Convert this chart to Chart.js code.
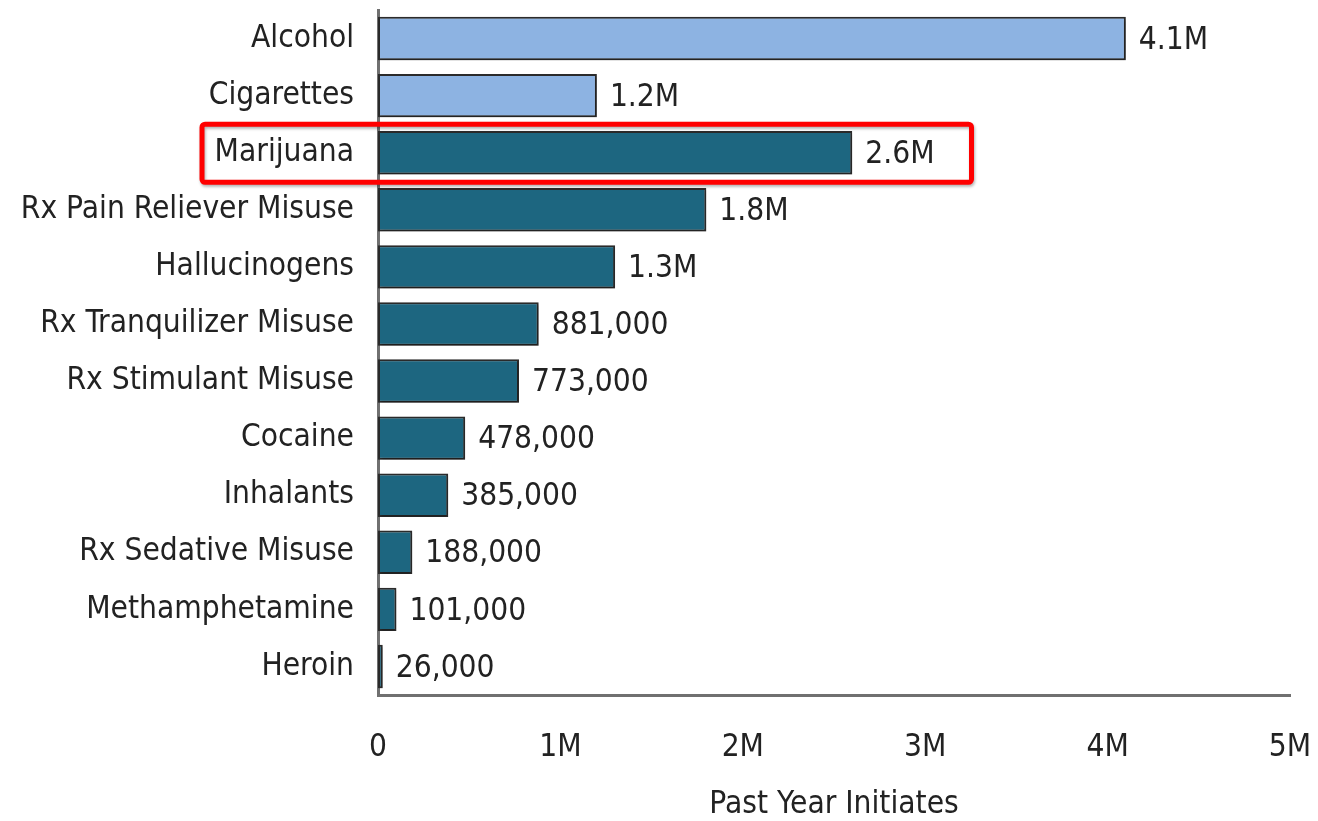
<!DOCTYPE html>
<html>
<head>
<meta charset="utf-8">
<script src="https://cdn.jsdelivr.net/npm/chart.js@4/dist/chart.umd.min.js"></script>
<style>
  html, body { margin: 0; padding: 0; background: #ffffff; }
  #c { width: 1318px; height: 821px; display: block; }
</style>
</head>
<body>
<canvas id="c" width="1318" height="821"></canvas>
<script>
const categories = ['Alcohol', 'Cigarettes', 'Marijuana', 'Rx Pain Reliever Misuse', 'Hallucinogens',
  'Rx Tranquilizer Misuse', 'Rx Stimulant Misuse', 'Cocaine', 'Inhalants', 'Rx Sedative Misuse',
  'Methamphetamine', 'Heroin'];
const initiates = [4100000, 1200000, 2600000, 1800000, 1300000, 881000, 773000, 478000, 385000, 188000, 101000, 26000];
const legalSubstance = [true, true, false, false, false, false, false, false, false, false, false, false];
const xTicks = [0, 1000000, 2000000, 3000000, 4000000, 5000000];
const highlighted = 'Marijuana';
const axisTitle = 'Past Year Initiates';

const LIGHT = '#8db3e2';
const DARK = '#1d6680';

// pick a condensed face if one is installed, otherwise fall back
const mctx = document.createElement('canvas').getContext('2d');
function hasFont(name) {
  mctx.font = '36px monospace';
  const a = mctx.measureText('Rx Pain Reliever Misuse').width;
  mctx.font = '36px "' + name + '", monospace';
  const b = mctx.measureText('Rx Pain Reliever Misuse').width;
  return Math.abs(a - b) > 0.5;
}
const candidates = ['Liberation Sans Narrow', 'Arial Narrow', 'DejaVu Sans Condensed', 'Liberation Sans'];
const faceName = candidates.find(hasFont) || 'Liberation Sans';
const FONT = '"' + faceName + '", Arial, sans-serif';
mctx.font = '100px ' + FONT;
const refW = mctx.measureText('Rx Pain Reliever Misuse').width;
const FS = Math.round(100 * 333 / refW * 10) / 10;

function fmt(v) {
  if (v >= 1000000) return (v / 1000000).toFixed(1) + 'M';
  return v.toLocaleString('en-US');
}
function fmtTick(v) {
  return v === 0 ? '0' : (v / 1000000) + 'M';
}
function noOverhang(scale) {
  scale.paddingTop = 0; scale.paddingBottom = 0;
  scale.paddingLeft = 0; scale.paddingRight = 0;
}

const shadowPlugin = {
  id: 'barShadow',
  beforeDatasetsDraw(chart) {
    const ctx = chart.ctx;
    ctx.save();
    ctx.shadowColor = 'rgba(0,0,0,0.35)';
    ctx.shadowBlur = 3;
    ctx.shadowOffsetX = 1;
    ctx.shadowOffsetY = 2;
  },
  afterDatasetsDraw(chart) {
    chart.ctx.restore();
    const ctx = chart.ctx;
    const meta = chart.getDatasetMeta(0);
    ctx.save();
    ctx.font = FS + 'px ' + FONT;
    ctx.fillStyle = '#222';
    ctx.textAlign = 'left';
    ctx.textBaseline = 'middle';
    meta.data.forEach((bar, i) => {
      ctx.fillText(fmt(initiates[i]), bar.x + 13, bar.y + 2);
    });
    const idx = categories.indexOf(highlighted);
    if (idx >= 0) {
      const bar = meta.data[idx];
      const yScale = chart.scales.y;
      const catH = (yScale.bottom - yScale.top) / categories.length;
      const tw = ctx.measureText(fmt(initiates[idx])).width;
      const left = chart.chartArea.left - 176;
      const right = bar.x + 13 + tw + 37;
      const top = bar.y - catH / 2;
      const h = catH + 1;
      ctx.shadowColor = 'rgba(0,0,0,0.3)';
      ctx.shadowBlur = 3;
      ctx.shadowOffsetX = 1;
      ctx.shadowOffsetY = 2;
      ctx.strokeStyle = '#ff0000';
      ctx.lineWidth = 5;
      ctx.beginPath();
      ctx.roundRect(left, top, right - left, h, 3);
      ctx.stroke();
    }
    ctx.restore();
  }
};

const chart = new Chart(document.getElementById('c'), {
  type: 'bar',
  data: {
    labels: categories,
    datasets: [{
      data: initiates,
      backgroundColor: legalSubstance.map(l => l ? LIGHT : DARK),
      borderColor: '#2b2b2b',
      borderWidth: 2,
      borderSkipped: false,
      barPercentage: 0.76,
      categoryPercentage: 1.0
    }]
  },
  options: {
    indexAxis: 'y',
    responsive: false,
    animation: false,
    devicePixelRatio: 1,
    layout: { autoPadding: false, padding: { top: 10, right: 28, bottom: 0, left: 0 } },
    plugins: { legend: { display: false }, tooltip: { enabled: false } },
    scales: {
      x: {
        min: 0, max: 5000000,
        afterBuildTicks(scale) { scale.ticks = xTicks.map(v => ({ value: v })); },
        afterFit(scale) { scale.height = 126; noOverhang(scale); },
        grid: { display: false, drawTicks: false, tickLength: 0 },
        border: { display: true, color: '#707070', width: 3 },
        ticks: {
          callback: v => fmtTick(v),
          font: { family: FONT, size: FS },
          color: '#222',
          padding: 34,
          maxRotation: 0
        },
        title: {
          display: true,
          text: axisTitle,
          font: { family: FONT, size: FS, lineHeight: 1 },
          color: '#222',
          padding: { top: 0, bottom: 0 }
        }
      },
      y: {
        afterFit(scale) { scale.width = 378; noOverhang(scale); },
        grid: { display: false, drawTicks: false, tickLength: 0 },
        border: { display: true, color: '#707070', width: 3 },
        ticks: {
          font: { family: FONT, size: FS },
          color: '#222',
          padding: 24
        }
      }
    }
  },
  plugins: [shadowPlugin]
});
</script>
</body>
</html>
